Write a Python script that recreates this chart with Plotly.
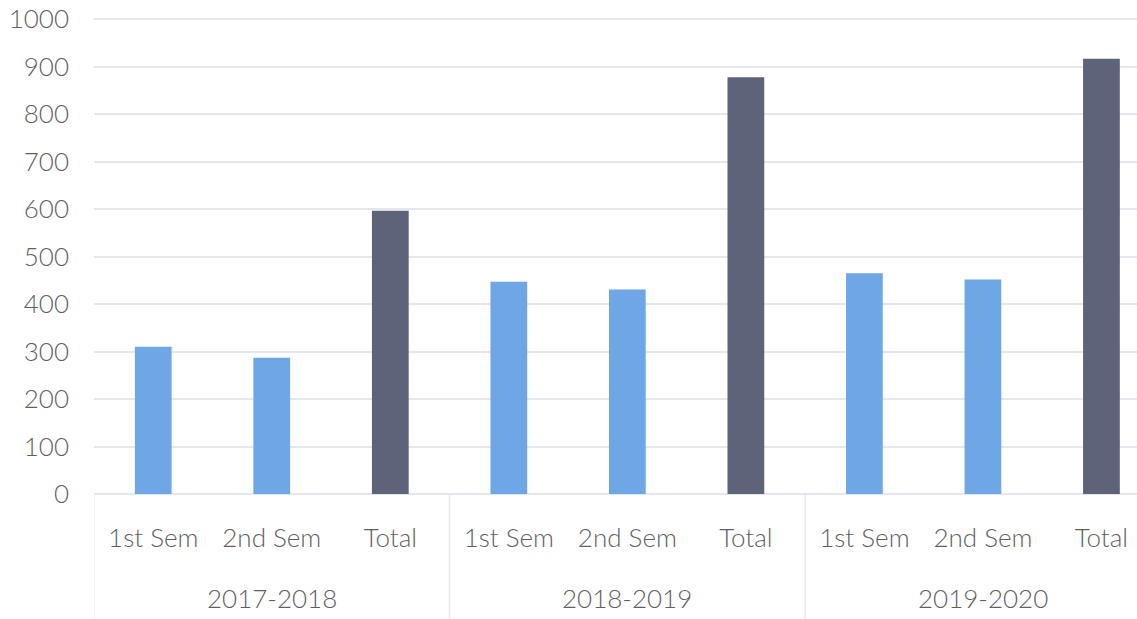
import plotly.graph_objects as go

# ---- data ----
years = ["2017-2018", "2018-2019", "2019-2020"]
periods = ["1st Sem", "2nd Sem", "Total"]
values_2017_2018 = [310, 287, 597]
values_2018_2019 = [447, 431, 878]
values_2019_2020 = [465, 452, 917]
y_ticks = [0, 100, 200, 300, 400, 500, 600, 700, 800, 900, 1000]

# ---- styles ----
SEM_COLOR = "#6ea6e6"
TOTAL_COLOR = "#5d6378"
TEXT_COLOR = "#5f5f5f"
GRID_COLOR = "#e4e8ee"
FONT = "Lato, 'Open Sans', sans-serif"
FS = 26

all_values = values_2017_2018 + values_2018_2019 + values_2019_2020
labels = periods * len(years)
xpos = list(range(len(all_values)))
colors = [TOTAL_COLOR if p == "Total" else SEM_COLOR for p in labels]

fig = go.Figure()
fig.add_trace(go.Bar(
    x=xpos, y=all_values, marker=dict(color=colors, line=dict(width=0)),
    width=0.31, showlegend=False, hoverinfo="y",
))

# group dividers
n = len(periods)
for g in range(len(years) + 1):
    fig.add_shape(type="line", xref="x", yref="paper",
                  x0=g * n - 0.5, x1=g * n - 0.5, y0=0, y1=-0.27,
                  line=dict(color=GRID_COLOR, width=1.5))
# year labels
for g, yr in enumerate(years):
    fig.add_annotation(x=g * n + (n - 1) / 2, xref="x", y=-0.218, yref="paper",
                       text=yr, showarrow=False, yanchor="middle",
                       font=dict(family=FONT, size=FS, color=TEXT_COLOR, weight=300))

fig.update_layout(
    width=1137, height=619,
    margin=dict(l=94, r=0, t=17, b=125),
    paper_bgcolor="white", plot_bgcolor="white",
    font=dict(family=FONT, color=TEXT_COLOR),
    xaxis=dict(
        tickmode="array", tickvals=xpos, ticktext=labels, automargin=False,
        range=[-0.5, 8.3], showgrid=False, zeroline=False, showline=False,
        ticks="", tickfont=dict(size=FS, color=TEXT_COLOR, weight=300),
        ticklabelstandoff=26, ticklabeloverflow="allow",
    ),
    yaxis=dict(
        range=[0, 1005], tickvals=y_ticks, showgrid=True, gridcolor=GRID_COLOR,
        gridwidth=1.5, zeroline=True, zerolinecolor=GRID_COLOR, zerolinewidth=1.5,
        showline=False, ticks="", tickfont=dict(size=FS, color=TEXT_COLOR, weight=300),
        ticklabelstandoff=24, automargin=False, ticklabeloverflow="allow",
    ),
)

fig.write_html(
    "out.html",
    config={"displayModeBar": False},
    post_script="document.body.style.margin='0';document.body.style.overflow='hidden';",
)
